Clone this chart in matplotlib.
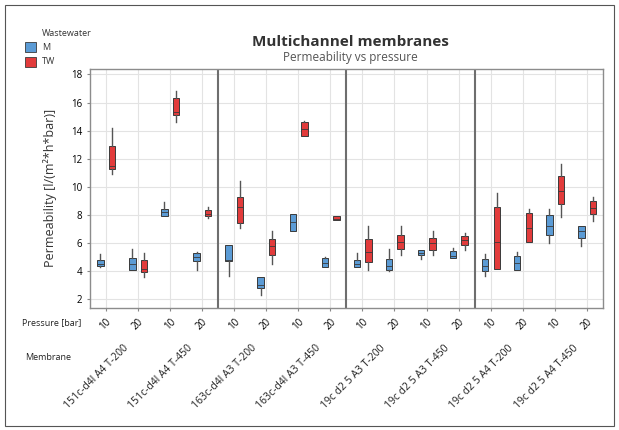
import numpy as np
import matplotlib
matplotlib.use("Agg")
import matplotlib.pyplot as plt
from matplotlib.patches import Rectangle

plt.rcParams['font.family'] = ['Open Sans', 'DejaVu Sans']

membranes = ["151c-d4l A4 T-200", "151c-d4l A4 T-450",
             "163c-d4l A3 T-200", "163c-d4l A3 T-450",
             "19c d2 5 A3 T-200", "19c d2 5 A3 T-450",
             "19c d2 5 A4 T-200", "19c d2 5 A4 T-450"]
pressures = ["10", "20"]

# five-number summaries, one entry per (membrane, pressure) in order
m_lo  = [4.3, 4.1, 7.9, 4.1, 3.7, 2.3, 6.9, 4.3, 4.3, 4.05, 4.9, 4.95, 3.7, 4.1, 6.0, 5.8]
m_q1  = [4.35, 4.12, 7.95, 4.7, 4.7, 2.8, 6.9, 4.3, 4.3, 4.07, 5.14, 4.98, 4.0, 4.12, 6.57, 6.4]
m_med = [4.55, 4.5, 8.2, 5.0, 4.8, 3.0, 7.5, 4.6, 4.55, 4.4, 5.3, 5.1, 4.4, 4.6, 7.2, 6.9]
m_q3  = [4.8, 4.95, 8.43, 5.33, 5.86, 3.6, 8.05, 4.98, 4.84, 4.9, 5.5, 5.43, 4.9, 5.07, 8.0, 7.24]
m_hi  = [5.2, 5.6, 8.95, 5.4, 5.9, 3.6, 8.1, 5.0, 5.3, 5.57, 5.5, 5.64, 5.2, 5.4, 8.45, 7.24]

tw_lo  = [10.9, 3.6, 14.6, 7.8, 7.05, 4.5, 13.6, 7.64, 4.07, 5.14, 5.14, 5.5, 4.2, 6.1, 7.88, 7.6]
tw_q1  = [11.3, 3.95, 15.14, 7.93, 7.45, 5.14, 13.64, 7.64, 4.67, 5.6, 5.5, 5.9, 4.2, 6.1, 8.79, 8.07]
tw_med = [11.5, 4.2, 15.3, 8.1, 8.6, 5.8, 14.1, 7.75, 5.4, 6.1, 6.0, 6.2, 6.1, 7.1, 9.7, 8.5]
tw_q3  = [12.9, 4.79, 16.33, 8.36, 9.31, 6.33, 14.64, 7.95, 6.33, 6.55, 6.38, 6.5, 8.6, 8.12, 10.79, 9.02]
tw_hi  = [14.2, 5.3, 16.8, 8.55, 10.45, 6.86, 14.7, 7.95, 7.24, 7.24, 6.86, 6.7, 9.55, 8.43, 11.64, 9.3]

blue = "#5b9bd5"
red = "#e23b3b"

fig = plt.figure(figsize=(6.19, 4.30), dpi=100)
ax = fig.add_axes([0.145, 0.284, 0.829, 0.556])

slots = np.arange(len(m_med))


def stats(lo, q1, med, q3, hi):
    return [dict(whislo=a, q1=b, med=c, q3=d, whishi=e, fliers=[])
            for a, b, c, d, e in zip(lo, q1, med, q3, hi)]


for data, off, col in [((m_lo, m_q1, m_med, m_q3, m_hi), -0.17, blue),
                       ((tw_lo, tw_q1, tw_med, tw_q3, tw_hi), 0.19, red)]:
    ax.bxp(stats(*data), positions=slots + off, widths=0.2, showcaps=False,
           patch_artist=True, manage_ticks=False,
           boxprops=dict(facecolor=col, edgecolor="#3a3a3a", linewidth=0.7),
           whiskerprops=dict(color="#555555", linewidth=1.0),
           medianprops=dict(color="#3a3a3a", linewidth=0.6))

ax.set_xlim(-0.5, len(slots) - 0.5)
ax.set_ylim(1.4, 18.4)
ax.set_yticks(np.arange(2, 19, 2))
ax.set_xticks(slots)
ax.set_xticklabels(pressures * len(membranes), rotation=45, fontsize=7,
                   ha="center", va="top")
ax.tick_params(axis="y", labelsize=7, length=2, color="#888888")
ax.tick_params(axis="x", length=2, color="#888888", pad=4)
ax.grid(True, color="#e3e3e3", linewidth=0.8)
ax.set_axisbelow(True)
for sp in ax.spines.values():
    sp.set_color("#8c8c8c")
    sp.set_linewidth(1.0)

# separators between membrane families
for b in [3.5, 7.5, 11.5]:
    ax.axvline(b, color="#6e6e6e", linewidth=1.5)

ax.set_ylabel("Permeability [l/(m²*h*bar)]", fontsize=9, color="#333333", labelpad=10)

# membrane labels below the pressure ticks
for i, name in enumerate(membranes):
    xm = 2 * i + 0.5
    ax.annotate(name, xy=(xm, 0), xycoords=("data", "axes fraction"),
                xytext=(1, -25), textcoords="offset points",
                rotation=45, ha="right", va="top", fontsize=7.5,
                rotation_mode="anchor", color="#222222")

fig.text(22 / 619, 1 - 323 / 430, "Pressure [bar]", fontsize=6.5, va="center", color="#222222")
fig.text(25 / 619, 1 - 358 / 430, "Membrane", fontsize=6.5, va="center", color="#222222")

fig.text(350 / 619, 1 - 42 / 430, "Multichannel membranes", fontsize=11,
         fontweight="bold", ha="center", va="center", color="#333333")
fig.text(350 / 619, 1 - 58 / 430, "Permeability vs pressure", fontsize=8.5,
         ha="center", va="center", color="#555555")

# legend
fig.text(42 / 619, 1 - 33 / 430, "Wastewater", fontsize=6.5, va="center", color="#333333")
for j, (lab, col) in enumerate([("M", blue), ("TW", red)]):
    yc = 1 - (47 + 15 * j) / 430
    fig.patches.append(Rectangle((25 / 619, yc - 5 / 430), 11 / 619, 10 / 430,
                                 transform=fig.transFigure, facecolor=col,
                                 edgecolor="#3a3a3a", linewidth=0.6))
    fig.text(42 / 619, yc, lab, fontsize=6.5, va="center", color="#333333")

# outer frame
fig.patches.append(Rectangle((5 / 619, 4 / 430), 609 / 619, 421 / 430,
                             transform=fig.transFigure, fill=False,
                             edgecolor="#555555", linewidth=0.8))

fig.savefig("out.png", dpi=100)
